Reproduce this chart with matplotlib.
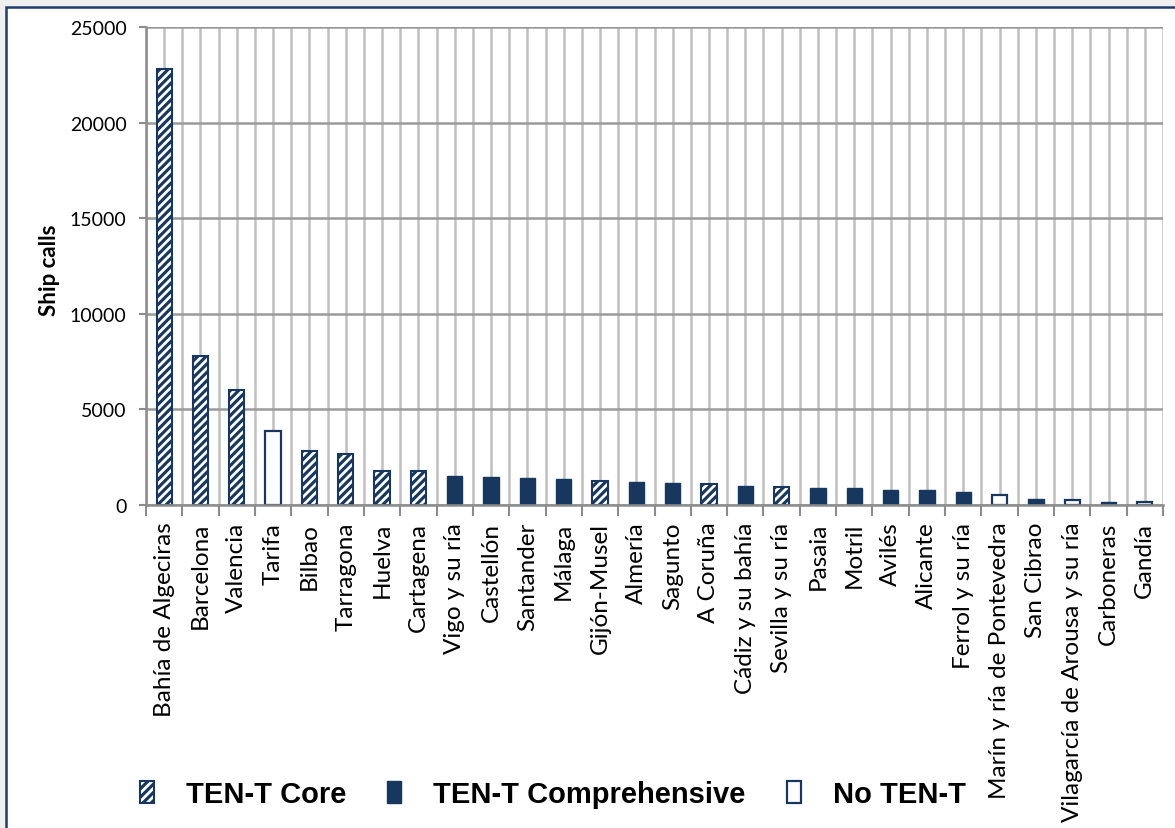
import matplotlib
matplotlib.use("Agg")
import matplotlib.pyplot as plt
from matplotlib.patches import Patch, Rectangle
from matplotlib.legend_handler import HandlerTuple
from matplotlib.ticker import FixedLocator, MultipleLocator

# Ship calls per Spanish port, with the TEN-T network category of each port
ports = [
    "Bahía de Algeciras", "Barcelona", "Valencia", "Tarifa", "Bilbao",
    "Tarragona", "Huelva", "Cartagena", "Vigo y su ría", "Castellón",
    "Santander", "Málaga", "Gijón-Musel", "Almería", "Sagunto",
    "A Coruña", "Cádiz y su bahía", "Sevilla y su ría", "Pasaia", "Motril",
    "Avilés", "Alicante", "Ferrol y su ría", "Marín y ría de Pontevedra",
    "San Cibrao", "Vilagarcía de Arousa y su ría", "Carboneras", "Gandía",
]
ship_calls = [
    22800, 7780, 6000, 3870, 2830,
    2660, 1800, 1775, 1530, 1480,
    1395, 1355, 1270, 1185, 1165,
    1095, 990, 955, 910, 885,
    805, 795, 700, 525,
    335, 245, 160, 140,
]
network = [
    "core", "core", "core", "none", "core",
    "core", "core", "core", "comp", "comp",
    "comp", "comp", "core", "comp", "comp",
    "core", "comp", "core", "comp", "comp",
    "comp", "comp", "comp", "none",
    "comp", "none", "comp", "none",
]
legend_labels = {"core": "TEN-T Core", "comp": "TEN-T Comprehensive", "none": "No TEN-T"}

NAVY = "#17375E"
GRID_V = "#C0C0C0"
GRID_H = "#9A9A9A"
AXIS = "#8C8C8C"
HATCH = "////"

plt.rcParams["font.family"] = ["Lato", "DejaVu Sans"]
plt.rcParams["hatch.linewidth"] = 2.0

W, H = 1175, 829
fig = plt.figure(figsize=(W / 100, H / 100), dpi=100, facecolor="#F0F0F0")

# white chart area framed by a dark blue border
fig.add_artist(Rectangle((6 / W, -0.05), 1.1, (H - 8) / H + 0.05,
                         transform=fig.transFigure, facecolor="white",
                         edgecolor="#1F3D6B", linewidth=1.8, zorder=0))

left, right = 146 / W, 1163 / W
bottom, top = 1 - 506 / H, 1 - 28 / H
ax = fig.add_axes([left, bottom, right - left, top - bottom])
ax.set_facecolor("white")

x = list(range(len(ports)))
bw = 0.42
for xi, v, kind in zip(x, ship_calls, network):
    if kind == "core":
        ax.bar(xi, v, width=bw, color=NAVY, edgecolor="white", hatch=HATCH,
               linewidth=0, zorder=3)
        ax.bar(xi, v, width=bw, fill=False, edgecolor=NAVY, linewidth=1.5, zorder=4)
    elif kind == "comp":
        ax.bar(xi, v, width=bw, color=NAVY, edgecolor=NAVY, linewidth=1.0, zorder=3)
    else:
        ax.bar(xi, v, width=bw, color="white", edgecolor=NAVY, linewidth=1.6, zorder=3)

ax.set_xlim(-0.5, len(ports) - 0.5)
ax.set_ylim(0, 25000)
ax.yaxis.set_major_locator(MultipleLocator(5000))
ax.set_yticklabels([f"{int(t)}" for t in ax.get_yticks()])

ax.set_xticks(x)
ax.set_xticklabels(ports, rotation=90, ha="center", va="top")
ax.xaxis.set_minor_locator(FixedLocator([i - 0.5 for i in range(len(ports) + 1)]))

ax.tick_params(axis="x", which="major", length=0, pad=12, labelsize=17.5)
ax.tick_params(axis="x", which="minor", length=8, width=1.5, color=AXIS, direction="out")
ax.tick_params(axis="y", which="major", length=5, width=1.5, color=AXIS, pad=9, labelsize=14)

ax.set_axisbelow(True)
ax.grid(True, axis="x", which="major", color=GRID_V, linewidth=1.8)
ax.grid(True, axis="x", which="minor", color=GRID_V, linewidth=1.8)
ax.grid(True, axis="y", which="major", color=GRID_H, linewidth=1.8)

for s in ("top", "right"):
    ax.spines[s].set_visible(False)
for s in ("left", "bottom"):
    ax.spines[s].set_color(AXIS)
    ax.spines[s].set_linewidth(1.8)
    ax.spines[s].set_zorder(5)

fig.text(50 / W, 1 - 270 / H, "Ship calls", rotation=90, ha="center", va="center",
         fontsize=16, fontweight="bold")

# legend row at the bottom
h_core = (Patch(facecolor=NAVY, edgecolor="white", hatch=HATCH, linewidth=0),
          Patch(facecolor="none", edgecolor=NAVY, linewidth=1.5))
h_comp = Patch(facecolor=NAVY, edgecolor=NAVY, linewidth=1.0)
h_none = Patch(facecolor="white", edgecolor=NAVY, linewidth=1.6)
fig.legend([h_core, h_comp, h_none],
           [legend_labels["core"], legend_labels["comp"], legend_labels["none"]],
           handler_map={tuple: HandlerTuple(ndivide=1, pad=0)},
           loc="center left", bbox_to_anchor=(140 / W, 1 - 795 / H), ncol=3,
           frameon=False, borderpad=0, borderaxespad=0,
           prop={"family": ["Liberation Sans", "DejaVu Sans"], "weight": "bold", "size": 21},
           handlelength=0.48, handleheight=0.75, handletextpad=1.1, columnspacing=1.4)

fig.savefig("out.png", dpi=100, facecolor=fig.get_facecolor())
